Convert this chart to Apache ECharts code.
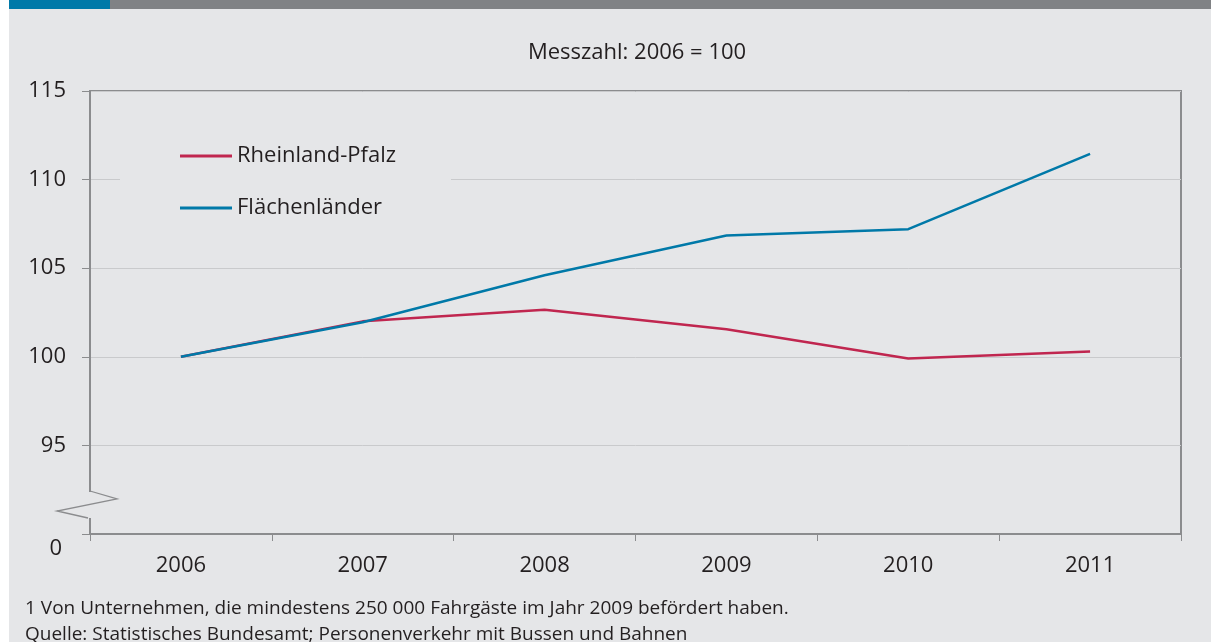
<!DOCTYPE html>
<html>
<head>
<meta charset="utf-8">
<script src="https://cdn.jsdelivr.net/npm/echarts@6/dist/echarts.min.js"></script>
<style>
  html, body { margin: 0; padding: 0; background: #fff; }
  #main { width: 1211px; height: 642px; }
</style>
</head>
<body>
<div id="main"></div>
<script>
// Messzahl 2006 = 100
const years = ['2006', '2007', '2008', '2009', '2010', '2011'];
const rheinlandPfalz = [100, 102.0, 102.65, 101.55, 99.9, 100.3];
const flaechenlaender = [100, 101.95, 104.6, 106.85, 107.2, 111.45];
const yTicks = [90, 95, 100, 105, 110, 115];  // 90 steht fuer den Achsenbruch, beschriftet mit 0

const bg = '#e5e6e8';
const axisColor = '#8b8c8e';
const textColor = '#231f20';
const font = 'Open Sans';

const chart = echarts.init(document.getElementById('main'));

chart.setOption({
  backgroundColor: bg,
  animation: false,
  textStyle: { fontFamily: font },
  title: {
    text: 'Messzahl: 2006 = 100',
    left: 632,
    textAlign: 'center',
    top: 37,
    textStyle: { color: textColor, fontSize: 22, fontWeight: 'normal', fontFamily: font }
  },
  legend: {
    orient: 'vertical',
    left: 120,
    top: 130,
    padding: [15, 55, 15, 60],
    backgroundColor: bg,
    itemWidth: 52,
    itemHeight: 3,
    itemGap: 30,
    itemStyle: { borderWidth: 0 },
    icon: 'rect',
    textStyle: { color: textColor, fontSize: 22, fontFamily: font },
    data: ['Rheinland-Pfalz', 'Flächenländer']
  },
  grid: {
    left: 90, top: 91, right: 30, bottom: 108,
    show: true, borderColor: axisColor, borderWidth: 2
  },
  xAxis: {
    type: 'category',
    data: years,
    boundaryGap: true,
    axisLine: { lineStyle: { color: axisColor, width: 2 } },
    axisTick: { show: true, length: 7, lineStyle: { color: axisColor, width: 1 } },
    axisLabel: { color: textColor, fontSize: 22, margin: 21, fontFamily: font }
  },
  yAxis: {
    type: 'value',
    min: yTicks[0],
    max: yTicks[yTicks.length - 1],
    interval: 5,
    axisLine: { show: true, lineStyle: { color: axisColor, width: 2 } },
    axisTick: { show: true, length: 8, lineStyle: { color: axisColor, width: 1 } },
    splitLine: { show: true, lineStyle: { color: '#c9cacc', width: 1 } },
    axisLabel: {
      color: textColor, fontSize: 22, margin: 24, fontFamily: font,
      formatter: v => v === yTicks[0] ? '{z|0}' : String(v),
      rich: { z: { fontSize: 22, color: textColor, fontFamily: font, padding: [30, 4, 0, 0] } }
    }
  },
  series: [
    {
      name: 'Rheinland-Pfalz', type: 'line', data: rheinlandPfalz,
      symbol: 'none', lineStyle: { color: '#c0264f', width: 2.5 }, itemStyle: { color: '#c0264f' }
    },
    {
      name: 'Flächenländer', type: 'line', data: flaechenlaender,
      symbol: 'none', lineStyle: { color: '#0079a8', width: 2.5 }, itemStyle: { color: '#0079a8' }
    }
  ],
  graphic: [
    { type: 'rect', left: 0, top: 0, shape: { width: 9, height: 642 }, style: { fill: '#ffffff' } },
    { type: 'rect', shape: { x: 9, y: 0, width: 101, height: 9 }, style: { fill: '#0079a8' } },
    { type: 'rect', shape: { x: 110, y: 0, width: 1101, height: 9 }, style: { fill: '#808285' } },
    // Achsenbruch
    { type: 'rect', z: 100, shape: { x: 85, y: 491, width: 10, height: 27 }, style: { fill: bg } },
    { type: 'polyline', z: 101, shape: { points: [[90, 491], [117, 499], [57, 511], [88, 518]] },
      style: { stroke: axisColor, lineWidth: 1.3, fill: null } },
    { type: 'line', z: 101, shape: { x1: 90, y1: 487, x2: 90, y2: 492 }, style: { stroke: axisColor, lineWidth: 2 } },
    { type: 'line', z: 101, shape: { x1: 90, y1: 518, x2: 90, y2: 524 }, style: { stroke: axisColor, lineWidth: 2 } },
    {
      type: 'text', left: 25, top: 599,
      style: { text: '1 Von Unternehmen, die mindestens 250 000 Fahrgäste im Jahr 2009 befördert haben.', fill: textColor, fontSize: 19, fontFamily: font }
    },
    {
      type: 'text', left: 25, top: 625,
      style: { text: 'Quelle: Statistisches Bundesamt; Personenverkehr mit Bussen und Bahnen', fill: textColor, fontSize: 19, fontFamily: font }
    }
  ]
});
</script>
</body>
</html>
